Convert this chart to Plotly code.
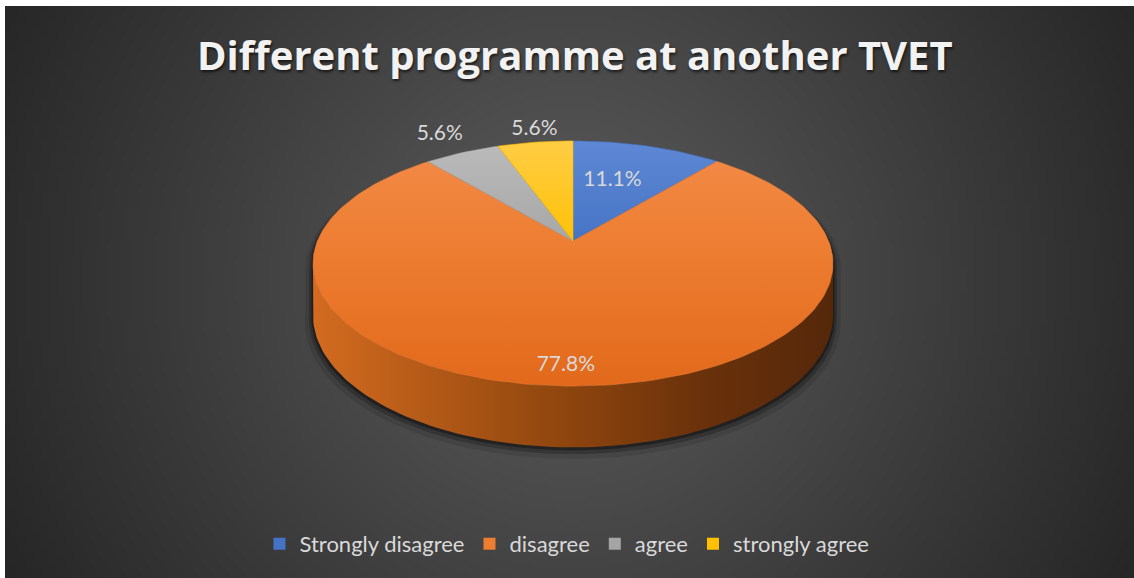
import math
import struct
import zlib
import base64
import plotly.graph_objects as go

# ---- data ----
categories = ["Strongly disagree", "disagree", "agree", "strongly agree"]
shares = [11.1, 77.8, 5.6, 5.6]
title_text = "Different programme at another TVET"

# ---- styling ----
W, H = 1134, 578
top_colors = ["#5E88D4", "#F38B48", "#BBBBBB", "#FFCD45"]
mid_colors = ["#4472C4", "#ED7D31", "#A5A5A5", "#FFC000"]
bot_colors = ["#2F5CB0", "#E2691B", "#8E8E8E", "#E5AF00"]
legend_colors = ["#4472C4", "#ED7D31", "#A5A5A5", "#FFC000"]
label_radius = [0.60, 0.88, 1.24, 1.15]
label_shift_x = [-8, -8, 0, 4]
text_color = "#D9D9D9"
font_family = "Lato"

# pie geometry in pixels (perspective-tilted disk)
CX, CY = 573.0, 241.0
RX, RY, K = 255.6, 118.4, 0.1837
DEPTH = 50.0


def project(phi, r=1.0, drop=0.0):
    """Map angle (clockwise from 12 o'clock) on the disk to screen pixels."""
    c = r * math.sin(phi)
    s = -r * math.cos(phi)
    den = 1.0 - K * s
    return CX + RX * c / den, CY + RY * s / den + drop / den


def arc(p0, p1, drop=0.0, n=None):
    n = n or max(4, int(abs(p1 - p0) / math.radians(1.5)))
    pts = [project(p0 + (p1 - p0) * i / n, 1.0, drop) for i in range(n + 1)]
    return [p[0] for p in pts], [p[1] for p in pts]


def background_uri():
    """Radial dark gradient rendered to a small grayscale PNG."""
    iw, ih = 284, 143
    x0, y0, sw, sh = 5.0, 6.0, W - 5.0, H - 6.0
    rows = []
    for j in range(ih):
        py = y0 + (j + 0.5) * sh / ih
        row = bytearray([0])
        for i in range(iw):
            px = x0 + (i + 0.5) * sw / iw
            r = math.hypot(px - 570.0, py - 280.0)
            v = 93.0 - 0.086 * r
            row.append(int(max(38.0, min(93.0, v))))
        rows.append(bytes(row))
    raw = b"".join(rows)

    def chunk(tag, data):
        c = struct.pack(">I", len(data)) + tag + data
        return c + struct.pack(">I", zlib.crc32(tag + data) & 0xFFFFFFFF)

    png = b"\x89PNG\r\n\x1a\n"
    png += chunk(b"IHDR", struct.pack(">IIBBBBB", iw, ih, 8, 0, 0, 0, 0))
    png += chunk(b"IDAT", zlib.compress(raw, 9))
    png += chunk(b"IEND", b"")
    return "data:image/png;base64," + base64.b64encode(png).decode()


total = sum(shares)
bounds = [0.0]
for v in shares:
    bounds.append(bounds[-1] + v / total * 2 * math.pi)

p_right = math.acos(-K)           # silhouette point on the right
p_left = 2 * math.pi - p_right    # silhouette point on the left
top_y = project(0.0)[1]
bot_y = project(math.pi)[1]
left_x = project(p_left)[0]
right_x = project(p_right)[0]

fig = go.Figure()

# soft drop shadow under the pie
for grow, alpha, dy in [(1.030, 0.10, 6), (1.015, 0.22, 4), (1.006, 0.35, 2)]:
    ax, ay = arc(p_left - 2 * math.pi, p_right, 0.0)
    bx, by = arc(p_right, p_left, DEPTH)
    xs = ax + bx
    ys = ay + by
    xs = [CX + (x - CX) * grow for x in xs]
    ys = [CY + 20 + (y - CY - 20) * grow + dy for y in ys]
    fig.add_trace(go.Scatter(x=xs, y=ys, mode="lines", fill="toself",
                             line=dict(width=0), fillcolor=f"rgba(0,0,0,{alpha})",
                             hoverinfo="skip", showlegend=False))

# side wall of the front part
for i in range(len(shares)):
    a = max(bounds[i], p_right)
    b = min(bounds[i + 1], p_left)
    if b <= a:
        continue
    ax, ay = arc(a, b, 0.0)
    bx, by = arc(b, a, DEPTH)
    fig.add_trace(go.Scatter(
        x=ax + bx, y=ay + by, mode="lines", fill="toself", line=dict(width=0),
        fillgradient=dict(type="horizontal", start=left_x, stop=right_x,
                          colorscale=[[0, "#D36B20"], [0.45, "#93480F"],
                                      [0.75, "#6A310B"], [1, "#55280A"]]),
        hoverinfo="skip", showlegend=False))

# top faces of the slices
for i in range(len(shares)):
    xs, ys = arc(bounds[i], bounds[i + 1], 0.0)
    xs = [CX] + xs + [CX]
    ys = [CY] + ys + [CY]
    fig.add_trace(go.Scatter(
        x=xs, y=ys, mode="lines", fill="toself",
        line=dict(width=0.6, color=mid_colors[i]),
        fillgradient=dict(type="vertical", start=top_y, stop=bot_y,
                          colorscale=[[0, top_colors[i]], [0.45, mid_colors[i]],
                                      [1, bot_colors[i]]]),
        hoverinfo="skip", showlegend=False))

# percentage labels
lx, ly, lt = [], [], []
for i, v in enumerate(shares):
    mid = (bounds[i] + bounds[i + 1]) / 2
    x, y = project(mid, label_radius[i])
    lx.append(x + label_shift_x[i])
    ly.append(y)
    lt.append(f"{v:.1f}%")
fig.add_trace(go.Scatter(x=lx, y=ly, mode="text", text=lt,
                         textfont=dict(family=font_family, size=21, color=text_color),
                         hoverinfo="skip", showlegend=False))

# legend entries
for name, col in zip(categories, legend_colors):
    fig.add_trace(go.Scatter(x=[None], y=[None], mode="markers", name=name,
                             marker=dict(symbol="square", size=12, color=col)))

fig.add_annotation(x=575, y=54, xref="x", yref="y", text=f"<b>{title_text}</b>",
                   showarrow=False, xanchor="center", yanchor="middle",
                   font=dict(family="Open Sans", size=40, color="#F2F2F2",
                             shadow="1px 2px 3px rgba(0,0,0,0.65)"))

fig.update_layout(
    width=W, height=H,
    margin=dict(l=0, r=0, t=0, b=0),
    paper_bgcolor="white",
    plot_bgcolor="rgba(0,0,0,0)",
    xaxis=dict(range=[0, W], visible=False, fixedrange=True),
    yaxis=dict(range=[H, 0], visible=False, fixedrange=True),
    showlegend=True,
    legend=dict(orientation="h", x=0.5, xanchor="center", y=1 - 544 / H,
                yanchor="middle", bgcolor="rgba(0,0,0,0)",
                font=dict(family=font_family, size=22, color=text_color),
                itemclick=False, itemdoubleclick=False),
    images=[dict(source=background_uri(), xref="paper", yref="paper",
                 x=5 / W, y=1 - 6 / H, sizex=(W - 5) / W, sizey=(H - 6) / H,
                 xanchor="left", yanchor="top", sizing="stretch", layer="below")],
)

fig.write_html("out.html")
